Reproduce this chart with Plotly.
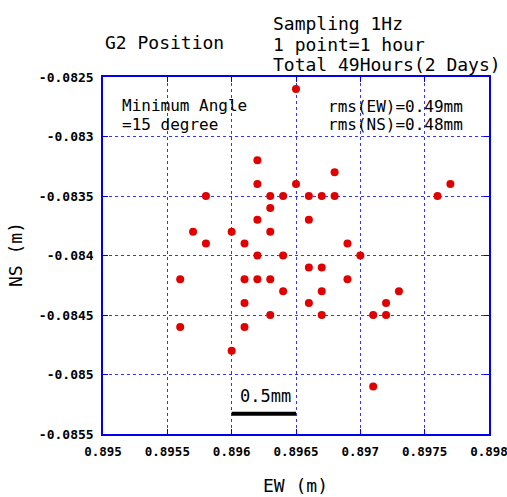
import plotly.graph_objects as go

# Data (EW, NS) in metres
ew = [0.8965, 0.8962, 0.8962, 0.8965, 0.8958, 0.8963, 0.8964, 0.8963, 0.8962, 0.8957,
      0.8960, 0.8963, 0.8958, 0.8961, 0.8962, 0.8964, 0.8968, 0.8966, 0.8967, 0.8968,
      0.8977, 0.8976, 0.8966, 0.8969, 0.8970, 0.8956, 0.8961, 0.8962, 0.8963, 0.8964,
      0.8961, 0.8963, 0.8956, 0.8961, 0.8960, 0.8966, 0.8967, 0.8969, 0.8967, 0.8973,
      0.8966, 0.8972, 0.8967, 0.8971, 0.8972, 0.8971]
ns = [-0.0826, -0.0832, -0.0834, -0.0834, -0.0835, -0.0835, -0.0835, -0.0836, -0.0837, -0.0838,
      -0.0838, -0.0838, -0.0839, -0.0839, -0.0840, -0.0840, -0.0833, -0.0835, -0.0835, -0.0835,
      -0.0834, -0.0835, -0.0837, -0.0839, -0.0840, -0.0842, -0.0842, -0.0842, -0.0842, -0.0843,
      -0.0844, -0.0845, -0.0846, -0.0846, -0.0848, -0.0841, -0.0841, -0.0842, -0.0843, -0.0843,
      -0.0844, -0.0844, -0.0845, -0.0845, -0.0845, -0.0851]

x_ticks = [0.895, 0.8955, 0.896, 0.8965, 0.897, 0.8975, 0.898]
x_ticktext = ["0.895", "0.8955", "0.896", "0.8965", "0.897", "0.8975", "0.898"]
y_ticks = [-0.0825, -0.083, -0.0835, -0.084, -0.0845, -0.085, -0.0855]
y_ticktext = ["-0.0825", "-0.083", "-0.0835", "-0.084", "-0.0845", "-0.085", "-0.0855"]

scale_x = [0.896, 0.8965]
scale_y = -0.08533
scale_label = "0.5mm"

MONO = "DejaVu Sans Mono"
W, H = 507, 497
L, R, T, B = 103, 18, 77, 63
PW, PH = W - L - R, H - T - B
EPS = 1e-9

def px(x):
    return (x - L) / PW

def py(y):
    return (H - B - y) / PH

fig = go.Figure()
fig.add_trace(go.Scatter(x=ew, y=ns, mode="markers",
                         marker=dict(color="#e00000", size=8, line=dict(width=0)),
                         showlegend=False, cliponaxis=False))

# scale bar
fig.add_trace(go.Scatter(x=scale_x, y=[scale_y, scale_y], mode="lines",
                         line=dict(color="black", width=4), showlegend=False))

axis_common = dict(showline=True, linecolor="#0000ee", linewidth=1.5, mirror="ticks",
                   showgrid=True, gridcolor="#3333ff", griddash="dot", gridwidth=1,
                   ticks="inside", ticklen=5, tickcolor="#0000ee", zeroline=False,
                   ticklabelstandoff=5, ticklabeloverflow="allow", automargin=False,
                   tickfont=dict(family=MONO, size=12.5, color="black", weight="bold"))

fig.update_xaxes(range=[0.895 - EPS, 0.898 + EPS], tickvals=x_ticks, ticktext=x_ticktext, **axis_common)
fig.update_yaxes(range=[-0.0855 - EPS, -0.0825 + EPS], tickvals=y_ticks, ticktext=y_ticktext, **axis_common)
fig.update_yaxes(tickfont=dict(size=13))

ann = []
def add(text, x, y, size=18, xanchor="left"):
    ann.append(dict(text=text, x=px(x), y=py(y), xref="paper", yref="paper",
                    xanchor=xanchor, yanchor="middle", showarrow=False,
                    font=dict(family=MONO, size=size, color="black")))

add("G2 Position", 103, 43)
add("Sampling 1Hz", 271, 23)
add("1 point=1 hour", 271, 44)
add("Total 49Hours(2 Days)", 271, 65)
add("Minimum Angle", 120, 105, size=16)
add("=15 degree", 120, 124, size=16)
add("rms(EW)=0.49mm", 326, 106, size=16)
add("rms(NS)=0.48mm", 326, 124, size=16)
add(scale_label, 265, 396, size=17, xanchor="center")
add("EW (m)", 295, 485, size=18, xanchor="center")
ann.append(dict(text="NS (m)", x=px(15), y=py(255), xref="paper", yref="paper",
                xanchor="center", yanchor="middle", showarrow=False, textangle=-90,
                font=dict(family=MONO, size=18, color="black")))

fig.update_layout(width=W, height=H, margin=dict(l=L, r=R, t=T, b=B, pad=0, autoexpand=False),
                  plot_bgcolor="white", paper_bgcolor="white", annotations=ann)

fig.write_html("out.html")
